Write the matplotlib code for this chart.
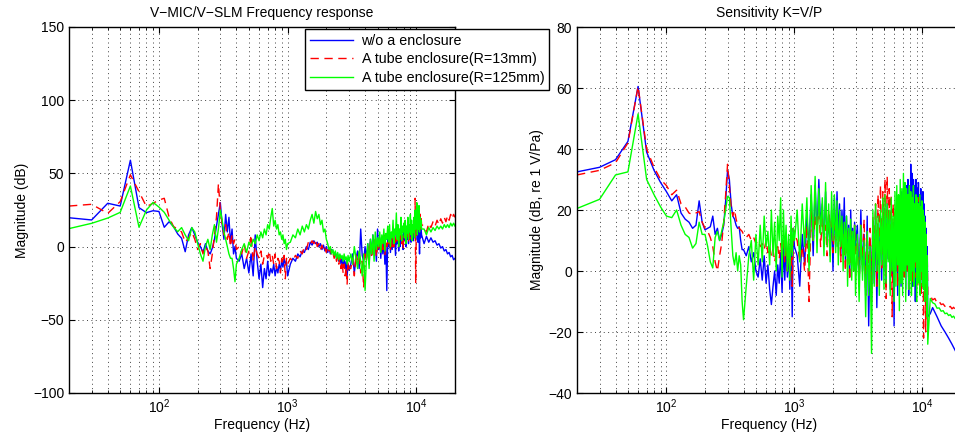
import numpy as np
import matplotlib
matplotlib.use('Agg')
import matplotlib.pyplot as plt
from matplotlib.ticker import LogLocator, NullFormatter

plt.rcParams['font.family'] = ['Liberation Sans', 'DejaVu Sans']
plt.rcParams['font.size'] = 10

# frequency bins (Hz): fine at low frequency, coarser higher up
freq = np.concatenate([np.arange(20, 410, 10), np.arange(420, 1010, 20),
                       np.arange(1050, 3010, 50), np.arange(3100, 11010, 100),
                       np.arange(11500, 20010, 500)])

labels = ['w/o a enclosure', 'A tube enclosure(R=13mm)', 'A tube enclosure(R=125mm)']

# ---- left panel: V-MIC / V-SLM (dB) ----
ratio_open = (
    [19.7, 18.2, 29.6, 27.7, 59, 26.6, 23.2, 24.5, 24, 13.2, 17, 13.6, 8.6, 5.7, -3.5, 8, 13, 8, 3, 0,
     -4, 2, -3, -5, -1, 5, 14, 22, 30, 15, 5, 22, 10, 20, 2, 12, -5, 0, -8]
    + [-10, -5, -15, -8, -18, -5, -20, 8, -10, -22, -12, -28, -15, -22, -10,
       -20, -15, -18, -12, -20, -14, -18, -12, -16, -10, -14, -8, -12, -10, -20]
    + [-12, -8, -10, -5, -7, -3, -4, 0, -2, 3, 1, 4, 2, 3, 0, 2, -2, 1, -3, 0,
       -4, -1, -5, -2, -3, -6, -4, -8, -5, -10, -6, -12, -8, -14, -9, -15, -10, -20, -12, -16]
    + [-12, -5, -18, -8, -3, -15, 12, -6, -10, 0, -8, 2, -12, 5, -6, 8, -4, 3, -10, 12,
       -2, 6, -8, 4, -5, 7, -12, 2, -30, 5, 0, 8, -4, 6, -2, 9, 0, 5, -6, 8,
       2, 10, -3, 7, 0, 12, 3, 8, -2, 10, 4, 12, 0, 9, 5, 14, 2, 10, 6, 12,
       3, 13, 6, 10, 4, 15, 8, 11, 5, 14, 8, 16, 3, 12, 10, -5, 14, 6, 12, 8]
    + [2, 7, 3, 6, 3, 4, 1, 2, -1, 0, -3, -2, -5, -4, -7, -6, -9, -8]
)
ratio_r13 = (
    [27.7, 28.9, 22.7, 30.7, 49, 37.5, 27.3, 29.6, 31.8, 33, 20, 13.6, 12, 10, 3, 6, 10, 5, -2, 2,
     -5, 0, -3, -15, -5, 8, 20, 43, 25, 15, 8, 15, 5, 10, 0, 8, 2, 5, -2]
    + [0, -5, 2, -8, -3, 8, -10, 0, -5, -8, -3, -12, -6, -5, -8,
       -3, -10, -6, -12, -5, -15, -8, -10, -18, -8, -12, -6, -22, -8, -12]
    + [-8, -10, -6, -8, -3, -5, 0, -2, 3, 1, 4, 2, 5, 0, 2, -2, 1, -3, -1, -4,
       0, -3, -2, -6, -4, -8, -5, -10, -7, -12, -8, -15, -10, -18, -12, -20, -14, -26, -10, -15]
    + [-15, -8, -20, -5, -12, -3, -18, -10, -28, -5, -10, 0, -6, 3, -8, 2, -4, 5, -7, 0,
       -3, 6, -5, 4, -2, 8, -6, 3, 0, 5, 2, 8, -3, 6, 0, 10, -2, 7, 3, 9,
       4, 10, 0, 8, 5, 12, 2, 9, -2, 8, 6, 12, 2, 10, 7, 14, 3, 11, 5, 13,
       8, 15, 4, 12, 9, 16, 6, 33, -25, 12, 18, 10, 22, 12, 20, 14, 24, 12, 20, 15]
    + [14, 10, 16, 13, 17, 14, 18, 15, 19, 16, 20, 17, 21, 18, 22, 19, 22, 20]
)
ratio_r125 = (
    [12.3, 15.9, 19.5, 23.4, 41.4, 13.2, 25, 30.2, 27, 23.4, 18, 13.2, 10.2, 13, 8, 4, 13, 10, 2, -5,
     -10, 0, 5, -2, 8, 15, 3, 12, 25, 18, 10, 5, 0, -5, -8, -8, -15, -24, -12]
    + [-8, -2, 2, -4, 3, 0, 5, 2, 8, 4, 10, 6, 12, 8, 15,
       12, 20, 26, 14, 18, 12, 15, 8, 10, 5, 8, 2, 5, -2, 2]
    + [3, 8, 6, 12, 8, 14, 10, 15, 12, 18, 22, 16, 24, 19, 22, 15, 18, 10, 12, 5,
       2, -2, 0, -5, -2, -6, -3, -8, -4, -9, -5, -8, -6, -10, -5, -9, -7, -12, -6, -10]
    + [-5, -12, 0, -8, -15, -3, -10, -20, -5, -30, -8, 2, -15, 5, -5, 8, -10, 10, -2, 6,
       0, 10, -4, 8, 2, 12, -3, 9, 5, 14, 3, 15, 0, 10, 6, 18, 2, 12, 8, 23,
       5, 15, 0, 12, 8, 20, 4, 14, 10, 16, 6, 18, 2, 14, 9, 20, 5, 15, 10, 22,
       8, 18, 4, 15, 10, 20, 6, 25, 12, 18, 30, 8, 26, 12, 28, 10, 20, 14, 18, 12]
    + [12, 8, 13, 10, 13, 11, 14, 12, 14, 12, 15, 13, 15, 13, 16, 14, 16, 14]
)

# ---- right panel: sensitivity K = V/P (dB re 1 V/Pa) ----
sens_open = (
    [32.5, 34, 36.5, 42.5, 60.5, 39, 33, 29, 26, 23, 25, 19, 17, 16, 14, 15, 23, 16, 13.5, 14,
     14.5, 18, 12, 14, 10, 12, 15, 23, 33, 30, 22, 18, 17, 15, 14, 14.5, 10, 7, 7]
    + [5, 8, 3, 6, 0, -2, 4, -3, 5, -4, 2, -6, -11, -5, 0,
       -8, 2, -4, 6, -7, 8, -3, 10, -2, 7, -6, 12, -15, 14, 8]
    + [5, -5, 12, 2, 18, 8, 25, 5, 28, 12, 30, 15, 22, 8, 26, 10, 18, 5, 20, 0,
       24, 8, 26, 12, 22, 5, 20, 10, 24, 3, 18, 6, 15, -2, 20, 5, 14, 0, 16, 8]
    + [15, -5, 20, 0, 12, -8, 18, -18, 10, -6, 16, -4, 20, -12, 14, 2, 18, -3, 22, 0,
       20, -5, 22, 4, 18, -6, 20, -2, 15, -18, 18, 0, 22, -8, 24, 2, 20, -5, 26, -2,
       22, 5, 25, -6, 28, 0, 30, -8, 26, 3, 35, 2, 32, -5, 30, 5, 28, -10, 30, 0,
       27, -3, 29, 4, 25, -6, 27, 2, 24, -4, 26, 0, 22, -8, 18, -5, 14, -12, 8, -15]
    + [-14, -12, -13.5, -15, -16.5, -18, -19, -20, -21, -22, -23, -24, -25, -26, -27, -28, -28.5, -29]
)
sens_r13 = (
    [31.5, 33, 35.5, 42, 60.5, 40, 34, 30, 28, 25, 26.5, 22, 21, 19, 18.5, 19, 19.5, 16, 14, 13,
     11, 8, 3, 0, 5, 9, 16, 25, 35, 28, 21, 18, 20, 17, 15, 14, 13.5, 13, 12]
    + [11, 12, 10, 11, 9, 10, 8, 9, 7, 10, 6, 8, 5, 7, 3,
       6, 8, 4, 9, 5, 10, 3, 8, 0, 10, -2, 12, -5, 14, 12]
    + [10, 3, 8, 0, 15, -10, 20, 10, 18, 12, 22, 8, 17, 10, 15, 5, 20, 12, 18, 6,
       15, 10, 20, 8, 14, 3, 16, 9, 12, 0, 14, 5, 10, -3, 13, 4, 11, 0, 15, 5]
    + [10, -5, 15, 2, 17, -8, 12, 0, 14, -10, 18, 3, 22, -5, 25, 6, 28, 0, 26, 5,
       30, -9, 31, 8, 27, 2, 25, -15, 22, 0, 20, 3, 18, -5, 22, 5, 16, -2, 20, 4,
       22, -3, 18, 6, 20, 0, 22, -6, 18, 4, 25, 2, 20, -4, 23, 5, 19, -2, 22, 3,
       20, -5, 24, 4, 18, 0, 21, -8, 19, 2, 17, -22, 15, -5, 12, -20, 10, -10, 5, -8]
    + [-8, -9.5, -9, -10.5, -10, -11, -10.8, -11.6, -11.2, -12, -11.6, -12.4, -11.9, -12.6, -12.1, -12.8, -12.3, -13]
)
sens_r125 = (
    [20.5, 23.5, 31.5, 32.5, 51.5, 30, 25, 21, 18, 17.5, 20, 15, 12, 11, 7.5, 9, 16, 12, 12, 8,
     3, 1, 11, 13, 10, 13, 16, 20, 24.5, 24, 14, 5, 2, 6, 0, 5, 2, -10, -16]
    + [-5, 5, 10, -3, 12, 2, 15, 3, 18, 8, 13, 2, 20, 5, 16,
       0, 18, 10, 24, -2, 20, 5, 15, 0, 12, -3, 18, 5, 14, 10]
    + [20, 3, 22, 8, 24, 0, 28, 10, 31, 6, 27, 12, 24, 5, 29, 8, 22, 3, 26, 10,
       25, 6, 23, 2, 20, 8, 18, 0, 16, 5, 18, -5, 14, 2, 17, -3, 13, 0, 15, -8]
    + [12, -10, 15, -3, 10, -15, 13, -8, 8, -27, 20, -5, 22, 0, 18, -8, 20, 2, 24, -6,
       25, -4, 22, 3, 20, -8, 24, 0, 18, -10, 26, -5, 28, 2, 25, -13, 30, -4, 27, -8,
       32, 0, 29, -10, 27, 2, 25, -6, 28, -3, 26, -8, 24, 0, 28, -5, 22, 3, 25, -10,
       24, -4, 22, 2, 25, -8, 21, 0, 23, -5, 20, -6, 18, -10, 16, -4, 12, -15, 5, -24]
    + [-9, -10.4, -10.8, -12.2, -12.1, -13.2, -13, -14, -13.8, -14.6, -14.3, -15.2, -14.8, -15.6, -15.2, -16, -15.6, -16.3]
)

W, H = 955, 440
fig = plt.figure(figsize=(W / 100, H / 100), dpi=100)
ax1 = fig.add_axes([69 / W, 1 - 393 / H, 386 / W, 366 / H])
ax2 = fig.add_axes([577 / W, 1 - 393 / H, 384 / W, 366 / H])


def draw(ax, blue, red, green, ylim, yticks, title, ylabel):
    hb, = ax.plot(freq, blue, color=(0, 0, 1), lw=1.0)
    hr, = ax.plot(freq, red, color=(1, 0, 0), lw=1.0, ls=(0, (6, 4)))
    hg, = ax.plot(freq, green, color=(0, 1, 0), lw=1.0)
    ax.set_xscale('log')
    ax.set_xlim(20, 20000)
    ax.set_ylim(*ylim)
    ax.set_yticks(yticks)
    ax.xaxis.set_major_locator(LogLocator(base=10, numticks=10))
    ax.xaxis.set_minor_locator(LogLocator(base=10, subs=np.arange(2, 10), numticks=20))
    ax.xaxis.set_minor_formatter(NullFormatter())
    grid_kw = dict(color='0.25', linestyle=(0, (1, 3.5)), linewidth=0.7)
    ax.grid(True, which='major', axis='both', **grid_kw)
    ax.grid(True, which='minor', axis='x', **grid_kw)
    ax.tick_params(which='both', direction='in', top=True, right=True, labelsize=10)
    ax.tick_params(which='major', length=4)
    ax.tick_params(which='minor', length=2)
    for s in ax.spines.values():
        s.set_linewidth(1.0)
    ax.set_title(title, fontsize=10, pad=7)
    ax.set_xlabel('Frequency (Hz)', fontsize=10, labelpad=1)
    ax.set_ylabel(ylabel, fontsize=10, labelpad=3)
    return hb, hr, hg


handles = draw(ax1, ratio_open, ratio_r13, ratio_r125, (-100, 150), [-100, -50, 0, 50, 100, 150],
               'V\u2212MIC/V\u2212SLM Frequency response', 'Magnitude (dB)')
draw(ax2, sens_open, sens_r13, sens_r125, (-40, 80), [-40, -20, 0, 20, 40, 60, 80],
     'Sensitivity K=V/P', 'Magnitude (dB, re 1 V/Pa)')

leg = fig.legend(handles, labels, loc='upper left', bbox_to_anchor=(305 / W, 1 - 29 / H),
                 fontsize=10.3, fancybox=False, framealpha=1, edgecolor='black',
                 borderaxespad=0, borderpad=0.35, labelspacing=0.3,
                 handlelength=3.0, handletextpad=0.6)
leg.get_frame().set_linewidth(1.0)

fig.savefig('out.png', dpi=100)
